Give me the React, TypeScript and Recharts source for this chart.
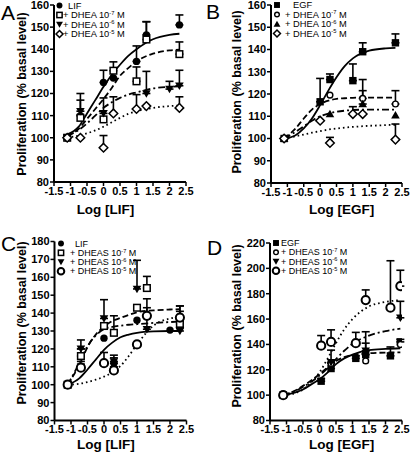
import React from 'react';
import { ComposedChart, Scatter, Line, XAxis, YAxis, ErrorBar } from 'recharts';

// axis ticks
const xTicks = [-1.5, -1, -0.5, 0, 0.5, 1, 1.5, 2, 2.5];
const yTicksAB = [80, 90, 100, 110, 120, 130, 140, 150, 160];
const yTicksC = [80, 90, 100, 110, 120, 130, 140, 150, 160, 170, 180];
const yTicksD = [80, 100, 120, 140, 160, 180, 200, 220];

// x positions of the fitted curves
const fitX = [-1.1, -0.75, -0.5, -0.25, 0, 0.25, 0.5, 0.75, 1, 1.5, 2, 2.3];
const fitXD = [-1.1, -0.75, -0.5, -0.25, 0, 0.25, 0.5, 0.75, 1, 1.5, 2, 2.45];

// ---- A: LIF + DHEA
const aX = [-1.1, -0.7, 0, 0.3, 1, 1.3, 2.3];
const aLif = [100, 110, 125, 127, 134.5, 146.5, 151];
const aLifErr = [null, 10, 5.5, null, 7, 6, 4.5];
const aDhea7 = [100, 109, 108.3, 130.3, 125.5, 144.4, 137.8];
const aDhea7Err = [null, null, null, 4, 6.5, 8, 5.5];
const aX6 = [-1.1, -0.7, 0, 1.3, 2, 2.3];
const aDhea6 = [100, 112, 111, 120, 122, 123.5];
const aDhea6Err = [null, 5, 7, 10, 3.5, 7];
const aDhea5 = [100, 100, 95.5, 111, 113, 114.3, 113.5];
const aDhea5Err = [null, null, 5.5, 7.5, 6.5, null, 5];
const aFitLif = [101.5, 105, 111, 117, 123, 128.5, 133, 137, 140, 144.5, 146.5, 147];
const aFit7 = [101, 104, 108.5, 113, 117.5, 122.5, 128, 131.5, 134.5, 138, 139.5, 139.8];
const aFit6 = [101, 103.5, 106.5, 110, 113.5, 116, 118, 119.5, 120.5, 122.3, 123, 123.2];
const aFit5 = [100, 101, 102, 103.3, 105, 107, 109, 110.8, 112, 113.5, 114.3, 114.6];

// ---- B: EGF + DHEA
const bX = [-1.1, 0, 0.3, 1, 1.3, 2.3];
const bEgf = [100, 116.5, 126.5, 126, 139, 143];
const bEgfErr = [null, 10.5, 2.5, 7.5, 4, 4];
const bX7 = [-1.1, 0.3, 1.3, 2.3];
const bDhea7 = [100, 119.5, 118, 115.5];
const bDhea7Err = [null, null, 8.5, 6];
const bDhea6 = [100, 111, 115.5, 110.5];
const bDhea6Err = [null, null, 6, null];
const bDhea5 = [100, 108, 98, 111, 111, 99.5];
const bDhea5Err = [null, null, 2.5, 3.3, null, 7];
const bFitEgf = [100, 101.5, 104.5, 109, 115, 121.5, 127.5, 132.5, 136, 139.5, 140.5, 140.7];
const bFit7 = [100, 104.5, 109, 113, 115.5, 117, 117.8, 118.1, 118.3, 118.4, 118.4, 118.4];
const bFit6 = [100, 103, 105.5, 108, 110, 111.2, 112, 112.5, 112.8, 113, 113, 113];
const bFit5 = [100, 101, 101.8, 102.6, 103.3, 104, 104.5, 104.9, 105.2, 105.7, 106, 106.2];

// ---- C: LIF + DHEAS
const cX = [-1.1, -0.7, 0, 0.3, 1, 1.3, 2.3];
const cXLif = [-1.1, -0.7, 0, 0.3, 1, 2, 2.3];
const cLif = [100, 110, 126, 112, 136, 130.5, 132];
const cLifErr = [null, 3, null, 3, null, null, 3];
const cDheas7 = [100, 116, 132.8, 129, 143, 154, 134];
const cDheas7Err = [null, 4, null, 9.5, null, 6.5, 7];
const cDheas6 = [100, 120, 137, 113, 153.5, 131, 130];
const cDheas6Err = [null, 5, 10.5, 3.5, 16, 12, 14];
const cDheas5 = [100, 109.5, 112, 108, 122.5, 138.5, 137.5];
const cDheas5Err = [null, 2, 6, 2, null, 9.5, 6.5];
const cFitLif = [100, 103.5, 108.5, 114, 119.5, 123.5, 126.5, 128, 129, 129.8, 130, 130];
const cFit7 = [100, 111, 121, 128, 132.5, 135.5, 137.3, 139, 140.5, 141.5, 142, 142.2];
const cFit6 = [100, 112, 121.5, 127.5, 131, 132.3, 133, 133.5, 133.8, 134.5, 135, 135.3];
const cFit5 = [100, 100.5, 101.5, 102.8, 104.5, 107, 110.5, 116, 122.5, 133, 137, 138];

// ---- D: EGF + DHEAS
const dX = [-1.1, 0.05, 0.35, 1.1, 1.4, 2.15, 2.45];
const dEgf = [100, 111, 121, 129, 132, 131, 142];
const dEgfErr = [null, 2, 4, 2, 9, 7, 2];
const dX7 = [-1.1, 0.35, 1.4, 2.45];
const dDheas7 = [100, 125, 127, 140];
const dDheas6 = [100, 126, 135, 161];
const dDheas6Err = [null, 9.5, 15, 13];
const dDheas5 = [100, 139, 142, 141, 175, 169, 186];
const dDheas5Err = [null, 8, 9.5, 8.5, 8, 37, 12.5];
const dFitEgf = [100, 102, 104.5, 108.5, 112.5, 118, 124.5, 129, 132, 135.5, 136.5, 137];
const dFit7 = [100, 103.5, 107.3, 111.5, 116.5, 122, 127, 130, 131.7, 133, 133.6, 133.8];
const dFit6 = [100, 103, 106.5, 110.5, 115.5, 121.5, 128.5, 135, 140.5, 147, 150.5, 152.5];
const dFit5 = [100, 101.5, 104.5, 110, 118, 129, 141, 152, 160, 170, 173.5, 175];

// legend labels
const legendA = [['LIF', ''], ['+ DHEA 10', '-7'], ['+ DHEA 10', '-6'], ['+ DHEA 10', '-5']];
const legendB = [['EGF', ''], ['+ DHEA 10', '-7'], ['+ DHEA 10', '-6'], ['+ DHEA 10', '-5']];
const legendC = [['LIF', ''], ['+ DHEAS 10', '-7'], ['+ DHEAS 10', '-6'], ['+ DHEAS 10', '-5']];
const legendD = [['EGF', ''], ['+ DHEAS 10', '-7'], ['+ DHEAS 10', '-6'], ['+ DHEAS 10', '-5']];

type Kind = 'dot' | 'square' | 'sqfill' | 'tridown' | 'triup' | 'diamond' | 'ring' | 'ringbig';
type Pt = { x: number; y: number; err: [number, number] | null };

const pts = (xs: number[], ys: number[], errs?: (number | null)[]): Pt[] =>
  xs.map((x, i) => ({
    x,
    y: ys[i],
    err: errs && errs[i] != null ? [0, errs[i] as number] : null,
  }));

const curve = (xs: number[], ys: number[]) => xs.map((x, i) => ({ x, y: ys[i] }));

const SOLID = undefined;
const DASH = '6 3';
const DASHDOT = '7 3 2 3';
const DOTS = '1.6 3';

function Marker({ kind, cx, cy, s = 1 }: { kind: Kind; cx: number; cy: number; s?: number }) {
  switch (kind) {
    case 'dot':
      return <circle cx={cx} cy={cy} r={3.7 * s} fill="#000" />;
    case 'square':
      return (
        <rect x={cx - 3.3 * s} y={cy - 3.3 * s} width={6.6 * s} height={6.6 * s}
          fill="#fff" stroke="#000" strokeWidth={1.5} />
      );
    case 'sqfill':
      return <rect x={cx - 3.7 * s} y={cy - 3.7 * s} width={7.4 * s} height={7.4 * s} fill="#000" />;
    case 'tridown':
      return (
        <path d={`M${cx - 4.3 * s},${cy - 3.3 * s}L${cx + 4.3 * s},${cy - 3.3 * s}L${cx},${cy + 4.2 * s}Z`}
          fill="#000" />
      );
    case 'triup':
      return (
        <path d={`M${cx - 4.3 * s},${cy + 3.3 * s}L${cx + 4.3 * s},${cy + 3.3 * s}L${cx},${cy - 4.2 * s}Z`}
          fill="#000" />
      );
    case 'diamond':
      return (
        <path d={`M${cx},${cy - 4.3 * s}L${cx + 4.3 * s},${cy}L${cx},${cy + 4.3 * s}L${cx - 4.3 * s},${cy}Z`}
          fill="#fff" stroke="#000" strokeWidth={1.5} />
      );
    case 'ring':
      return <circle cx={cx} cy={cy} r={2.9 * s} fill="#fff" stroke="#000" strokeWidth={1.4} />;
    case 'ringbig':
      return <circle cx={cx} cy={cy} r={4.1 * s} fill="#fff" stroke="#000" strokeWidth={2} />;
  }
  return null;
}

type Series = { kind: Kind; data: Pt[] };
type Fit = { data: { x: number; y: number }[]; dash?: string };

interface PanelProps {
  left: number;
  top: number;
  w: number;
  h: number;
  margin: { top: number; right: number; bottom: number; left: number };
  yWidth: number;
  xHeight: number;
  yDomain: [number, number];
  yTicks: number[];
  series: Series[];
  fits: Fit[];
  xTitle: string;
  xTitlePos: [number, number];
  yTitlePos: [number, number];
}

const tickStyle = { fill: '#000', fontSize: 11, fontWeight: 'bold' as const };
const axisLine = { stroke: '#000', strokeWidth: 2 };
const tickLine = { stroke: '#000', strokeWidth: 1.5 };

const Panel = (p: PanelProps) => (
  <div style={{ position: 'absolute', left: p.left, top: p.top }}>
    <ComposedChart width={p.w} height={p.h} margin={p.margin}>
      <XAxis
        type="number"
        dataKey="x"
        domain={[-1.5, 2.5]}
        ticks={xTicks}
        interval={0}
        allowDataOverflow
        height={p.xHeight}
        axisLine={axisLine}
        tickLine={tickLine}
        tickSize={4}
        tickMargin={1}
        tick={tickStyle}
        label={() => (
          <text x={p.xTitlePos[0]} y={p.xTitlePos[1]} textAnchor="middle" fontSize={13.5}
            fontWeight="bold" fill="#000">
            {p.xTitle}
          </text>
        )}
      />
      <YAxis
        type="number"
        domain={p.yDomain}
        ticks={p.yTicks}
        interval={0}
        allowDataOverflow
        width={p.yWidth}
        axisLine={axisLine}
        tickLine={tickLine}
        tickSize={4}
        tickMargin={1}
        tick={tickStyle}
        label={() => (
          <text x={p.yTitlePos[0]} y={p.yTitlePos[1]} textAnchor="middle" dominantBaseline="central"
            transform={`rotate(-90 ${p.yTitlePos[0]} ${p.yTitlePos[1]})`}
            fontSize={12.5} fontWeight="bold" fill="#000">
            Proliferation (% basal level)
          </text>
        )}
      />
      {p.fits.map((f, i) => (
        <Line key={'fit' + i} data={f.data} dataKey="y" type="monotone" dot={false} activeDot={false}
          stroke="#000" strokeWidth={1.8} strokeDasharray={f.dash} isAnimationActive={false} />
      ))}
      {p.series.map((s, i) => (
        <Scatter key={'pts' + i} data={s.data} dataKey="y" isAnimationActive={false}
          shape={(sp: any) => <Marker kind={s.kind} cx={sp.cx} cy={sp.cy} />}>
          <ErrorBar dataKey="err" direction="y" width={4} stroke="#000" strokeWidth={1.6} />
        </Scatter>
      ))}
    </ComposedChart>
  </div>
);

interface LegendProps {
  rows: string[][];
  kinds: Kind[];
  ys: number[];
  markerX: number;
  textX: number;
  firstX: number;
  fontSize: number;
}

const LegendBlock = ({ rows, kinds, ys, markerX, textX, firstX, fontSize }: LegendProps) => (
  <g>
    {rows.map(([txt, exp], i) => (
      <g key={i}>
        <Marker kind={kinds[i]} cx={markerX} cy={ys[i]} s={0.8} />
        <text x={i === 0 ? firstX : textX} y={ys[i]} dominantBaseline="central" fontSize={fontSize} fill="#000">
          {txt}
          {exp && (
            <>
              <tspan dy={-2.3} fontSize={fontSize * 0.62}>{exp}</tspan>
              <tspan dy={2.3}> M</tspan>
            </>
          )}
        </text>
      </g>
    ))}
  </g>
);

export default function App() {
  return (
    <div style={{
      position: 'absolute', left: 0, top: 0, width: 410, height: 455, background: '#fff',
      fontFamily: "'Liberation Sans', Arial, sans-serif",
    }}>
      <Panel
        left={0} top={0} w={205} h={225}
        margin={{ top: 5, right: 19, bottom: 0, left: 0 }}
        yWidth={54} xHeight={43}
        yDomain={[80, 160]} yTicks={yTicksAB}
        series={[
          { kind: 'dot', data: pts(aX, aLif, aLifErr) },
          { kind: 'square', data: pts(aX, aDhea7, aDhea7Err) },
          { kind: 'tridown', data: pts(aX6, aDhea6, aDhea6Err) },
          { kind: 'diamond', data: pts(aX, aDhea5, aDhea5Err) },
        ]}
        fits={[
          { data: curve(fitX, aFitLif), dash: SOLID },
          { data: curve(fitX, aFit7), dash: DASH },
          { data: curve(fitX, aFit6), dash: DASHDOT },
          { data: curve(fitX, aFit5), dash: DOTS },
        ]}
        xTitle="Log [LIF]" xTitlePos={[105.5, 214]} yTitlePos={[22, 94]}
      />
      <Panel
        left={205} top={0} w={205} h={225}
        margin={{ top: 5, right: 8, bottom: 0, left: 0 }}
        yWidth={66} xHeight={42}
        yDomain={[80, 160]} yTicks={yTicksAB}
        series={[
          { kind: 'sqfill', data: pts(bX, bEgf, bEgfErr) },
          { kind: 'ring', data: pts(bX7, bDhea7, bDhea7Err) },
          { kind: 'triup', data: pts(bX7, bDhea6, bDhea6Err) },
          { kind: 'diamond', data: pts(bX, bDhea5, bDhea5Err) },
        ]}
        fits={[
          { data: curve(fitX, bFitEgf), dash: SOLID },
          { data: curve(fitX, bFit7), dash: DASH },
          { data: curve(fitX, bFit6), dash: DASHDOT },
          { data: curve(fitX, bFit5), dash: DOTS },
        ]}
        xTitle="Log [EGF]" xTitlePos={[136.7, 214]} yTitlePos={[32.3, 92]}
      />
      <Panel
        left={0} top={228} w={205} h={227}
        margin={{ top: 13.5, right: 18.5, bottom: 0, left: 0 }}
        yWidth={54.5} xHeight={34.5}
        yDomain={[80, 180]} yTicks={yTicksC}
        series={[
          { kind: 'dot', data: pts(cXLif, cLif, cLifErr) },
          { kind: 'square', data: pts(cX, cDheas7, cDheas7Err) },
          { kind: 'tridown', data: pts(cX, cDheas6, cDheas6Err) },
          { kind: 'ringbig', data: pts(cX, cDheas5, cDheas5Err) },
        ]}
        fits={[
          { data: curve(fitX, cFitLif), dash: SOLID },
          { data: curve(fitX, cFit7), dash: DASH },
          { data: curve(fitX, cFit6), dash: DASHDOT },
          { data: curve(fitX, cFit5), dash: DOTS },
        ]}
        xTitle="Log [LIF]" xTitlePos={[105.8, 221]} yTitlePos={[21.7, 95]}
      />
      <Panel
        left={205} top={228} w={205} h={227}
        margin={{ top: 15, right: 8, bottom: 0, left: 0 }}
        yWidth={65} xHeight={34.5}
        yDomain={[80, 220]} yTicks={yTicksD}
        series={[
          { kind: 'sqfill', data: pts(dX, dEgf, dEgfErr) },
          { kind: 'ring', data: pts(dX7, dDheas7) },
          { kind: 'tridown', data: pts(dX7, dDheas6, dDheas6Err) },
          { kind: 'ringbig', data: pts(dX, dDheas5, dDheas5Err) },
        ]}
        fits={[
          { data: curve(fitXD, dFitEgf), dash: SOLID },
          { data: curve(fitXD, dFit7), dash: DASH },
          { data: curve(fitXD, dFit6), dash: DASHDOT },
          { data: curve(fitXD, dFit5), dash: DOTS },
        ]}
        xTitle="Log [EGF]" xTitlePos={[136.7, 221]} yTitlePos={[31.7, 98]}
      />
      <svg width={410} height={455} style={{ position: 'absolute', left: 0, top: 0, pointerEvents: 'none' }}>
        <text x={1} y={20} fontSize={21} fill="#000">A</text>
        <text x={206} y={18.5} fontSize={21} fill="#000">B</text>
        <text x={1} y={251} fontSize={21} fill="#000">C</text>
        <text x={207} y={255} fontSize={21} fill="#000">D</text>
        <LegendBlock rows={legendA} kinds={['dot', 'square', 'tridown', 'diamond']}
          ys={[5.5, 15, 24.5, 34]} markerX={59.5} textX={63} firstX={68} fontSize={9.3} />
        <LegendBlock rows={legendB} kinds={['sqfill', 'ring', 'triup', 'diamond']}
          ys={[5, 14.5, 24, 33.5]} markerX={277} textX={285} firstX={293} fontSize={9.3} />
        <LegendBlock rows={legendC} kinds={['dot', 'square', 'tridown', 'ringbig']}
          ys={[243.5, 252.8, 262, 271.3]} markerX={61} textX={70} firstX={75} fontSize={9} />
        <LegendBlock rows={legendD} kinds={['sqfill', 'ring', 'tridown', 'ringbig']}
          ys={[243, 252.3, 261.5, 270.8]} markerX={276} textX={281} firstX={281} fontSize={9} />
      </svg>
    </div>
  );
}
